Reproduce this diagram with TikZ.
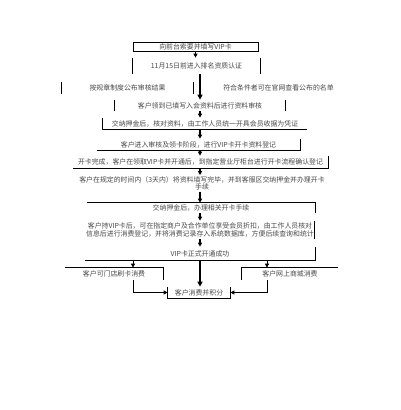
\documentclass[tikz,border=0pt]{standalone}
\usepackage{fontspec}
\newfontfamily\cjk{Noto Sans CJK SC}
\usetikzlibrary{arrows.meta}

\begin{document}
\begin{tikzpicture}[x=1pt, y=-1pt, line width=0.7pt,
  step box/.style={inner sep=0pt, text=black!72, align=center,
    font=\cjk\fontsize{6.9}{7.6}\selectfont},
  arr/.style={line width=1.3pt, -{Triangle[length=4pt,width=4pt]}},
  bigarr/.style={line width=2pt, -{Triangle[length=5pt,width=5pt]}}]
  \useasboundingbox (0,0) rectangle (400,410);
  % 竖向主线与两侧分支的 x 位置
  \coordinate (mid) at (200,0);
  \coordinate (lft) at (133,0);
  \coordinate (rgt) at (267,0);

  % 各步骤，node 的大小即边框位置
  \node[step box, draw, minimum width=125pt, minimum height=9pt] (apply) at (195.5,46.5) {向前台索要并填写VIP卡};
  \node[step box, minimum width=127pt, minimum height=16pt] (rank) at (196.5,66) {11月15日前进入排名资质认证};
  \node[step box, minimum width=131pt, minimum height=12pt] (audit) at (127.5,88) {按规章制度公布审核结果};
  \node[step box] (notice) at (278.5,88) {符合条件者可在官网查看公布的名单};
  \node[step box, minimum width=170pt, minimum height=11pt] (check) at (200,105.5) {客户领到已填写入会资料后进行资料审核};
  \node[step box, minimum width=204pt, minimum height=11pt] (pay) at (205,123.5) {交纳押金后，核对资料，由工作人员统一开具会员收据为凭证};
  \node[step box, minimum width=203pt, minimum height=11pt] (enter) at (198.5,144.5) {客户进入审核及领卡阶段，进行VIP卡开卡资料登记};
  \node[step box, minimum width=255pt, minimum height=12pt] (done) at (200.5,162) {开卡完成，客户在领取VIP卡并开通后，到指定营业厅柜台进行开卡流程确认登记};
  \node[step box, minimum height=16pt] (fill) at (202,183.5) {客户在规定的时间内（3天内）将资料填写完毕，并到客服区交纳押金并办理开卡\\手续};
  \node[step box, minimum width=228pt, minimum height=10pt] (deposit) at (201,208) {交纳押金后，办理相关开卡手续};
  \node[step box, minimum width=226pt, minimum height=18pt] (use) at (200,230) {客户持VIP卡后，可在指定商户及合作单位享受会员折扣，由工作人员核对\\信息后进行消费登记，并将消费记录存入系统数据库，方便后续查询和统计};
  \node[step box, minimum width=230pt, minimum height=13pt] (open) at (200,253.5) {VIP卡正式开通成功};
  \node[step box, minimum width=98pt, minimum height=12pt] (offline) at (114,274) {客户可门店刷卡消费};
  \node[step box, minimum width=96pt, minimum height=12pt] (online) at (290,274) {客户网上商城消费};
  \node[step box, minimum width=62pt, minimum height=11pt] (final) at (199,292.5) {客户消费并积分};

  % 不完整的边框
  \draw (rank.north west) -- (rank.south west) (rank.north east) -- (rank.south east);
  \draw (audit.north west) -- (audit.south west) (audit.north east) -- (audit.south east);
  \draw (check.north west) -- (check.south west) (check.north east) -- (check.south east);
  \draw (pay.north west) -- (pay.south west) -- (pay.south east);
  \draw (enter.north east) -- (enter.south east) -- (enter.south west);
  \draw (done.north east) -- (done.south east) -- (done.south west);
  \draw (deposit.north west) -- (deposit.north east) -- (deposit.south east);
  \draw (use.north east) -- (use.south east);
  \draw (open.north east) -- (open.south east) -- (open.south west);
  \draw (offline.north west) -- (offline.north east) -- (offline.south east);
  \draw (online.north east) -- (online.north west) -- (online.south west);
  \draw (final.north west) -- (final.south west) -- (final.south east) -- (final.north east);

  % 箭头
  \draw[arr] (apply.south) -- (apply.south |- rank.north);
  \draw[bigarr] (rank.south -| mid) -- (check.north -| mid);
  \draw[arr] (check.south -| mid) -- (pay.north -| mid);
  \draw[arr] (pay.south -| mid) -- (enter.north -| mid);
  \draw[arr] (enter.south -| mid) -- (done.north -| mid);
  \draw[arr] (done.south -| mid) -- (fill.north -| mid);
  \draw[arr] (fill.south -| mid) -- (deposit.north -| mid);
  \draw[arr] (deposit.south -| mid) -- (use.north -| mid);
  \draw[arr] (use.south -| mid) -- (open.north -| mid);
  \draw[bigarr] (open.south -| mid) -- (final.north -| mid);
  \draw[arr, line width=0.8pt] (open.south -| lft) -- (offline.north -| lft);
  \draw[arr, line width=0.8pt] (open.south -| rgt) -- (online.north -| rgt);
  \draw[arr, line width=0.8pt] (offline.south -| lft) |- (final.west);
  \draw[arr, line width=0.8pt] (online.south -| rgt) |- (final.east);
\end{tikzpicture}
\end{document}
